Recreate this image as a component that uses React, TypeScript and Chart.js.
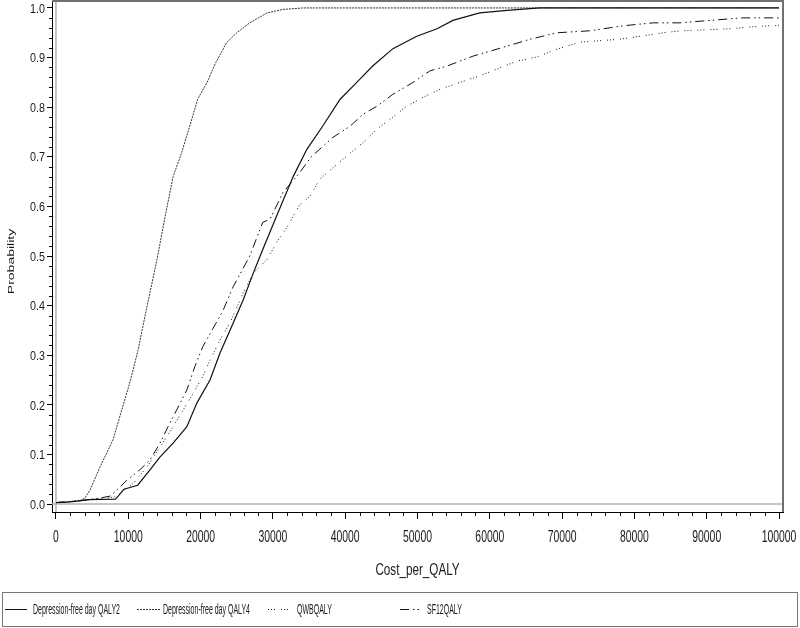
import React, { useEffect, useRef } from "react";
import { Chart, registerables } from "chart.js";

Chart.register(...registerables);

// ---------- data ----------
const seriesNames = [
  "Depression-free day QALY2",
  "Depression-free day QALY4",
  "QWBQALY",
  "SF12QALY",
];

const qaly2X = [0, 1500, 3000, 4500, 8200, 8600, 9400, 11300, 13000, 14400, 16200, 18100, 19500, 21300, 22700, 24300, 25900, 27300, 28600, 30500, 32800, 34700, 36900, 39300, 41600, 43800, 46600, 49900, 52700, 54900, 58600, 62400, 66900, 100000];
const qaly2Y = [0.003, 0.004, 0.006, 0.009, 0.01, 0.016, 0.03, 0.038, 0.069, 0.095, 0.123, 0.156, 0.204, 0.25, 0.305, 0.358, 0.412, 0.466, 0.513, 0.58, 0.66, 0.715, 0.762, 0.816, 0.85, 0.883, 0.918, 0.943, 0.958, 0.975, 0.99, 0.995, 1.0, 1.0];

const qaly4X = [0, 2000, 3500, 4000, 4700, 6100, 7900, 9100, 10200, 11350, 12300, 13000, 14000, 15100, 16200, 17400, 18500, 19600, 20900, 22000, 23600, 25000, 26800, 29200, 31400, 34200, 100000];
const qaly4Y = [0.003, 0.005, 0.008, 0.012, 0.028, 0.075, 0.13, 0.19, 0.244, 0.31, 0.378, 0.426, 0.495, 0.58, 0.66, 0.709, 0.762, 0.816, 0.85, 0.887, 0.93, 0.95, 0.97, 0.99, 0.997, 1.0, 1.0];

const qwbX = [0, 2000, 4000, 6000, 8000, 8900, 10700, 12600, 14400, 16200, 17600, 19000, 20300, 21300, 22700, 24100, 25900, 27300, 29200, 30500, 31900, 33700, 35100, 36500, 38300, 40500, 42500, 44400, 46600, 48500, 50800, 53100, 55900, 58600, 61000, 63800, 66500, 69300, 72500, 78000, 80800, 84500, 86700, 90000, 93200, 96400, 100000];
const qwbY = [0.003, 0.005, 0.008, 0.01, 0.014, 0.022, 0.042, 0.075, 0.115, 0.156, 0.19, 0.224, 0.257, 0.29, 0.331, 0.366, 0.426, 0.466, 0.493, 0.527, 0.557, 0.603, 0.62, 0.655, 0.678, 0.705, 0.729, 0.756, 0.78, 0.802, 0.82, 0.836, 0.85, 0.863, 0.877, 0.893, 0.901, 0.917, 0.931, 0.937, 0.943, 0.951, 0.954, 0.956, 0.958, 0.962, 0.965];

const sf12X = [0, 2000, 4000, 6000, 7500, 8400, 9800, 11600, 13000, 14400, 15500, 16700, 18100, 19200, 20300, 21600, 23100, 24500, 25700, 26800, 28600, 29600, 31400, 33700, 35300, 38300, 40700, 42500, 44400, 46600, 49400, 51700, 54100, 57700, 61000, 65600, 69300, 73900, 78400, 82600, 86300, 91400, 95000, 100000];
const sf12Y = [0.003, 0.005, 0.008, 0.012, 0.016, 0.028, 0.048, 0.069, 0.089, 0.123, 0.156, 0.19, 0.23, 0.277, 0.317, 0.351, 0.39, 0.438, 0.47, 0.5, 0.568, 0.574, 0.628, 0.668, 0.7, 0.739, 0.762, 0.786, 0.802, 0.826, 0.85, 0.873, 0.883, 0.903, 0.917, 0.937, 0.95, 0.954, 0.964, 0.97, 0.97, 0.976, 0.98, 0.98];

const xTickValues = [0, 10000, 20000, 30000, 40000, 50000, 60000, 70000, 80000, 90000, 100000];
const yTickValues = [0, 0.1, 0.2, 0.3, 0.4, 0.5, 0.6, 0.7, 0.8, 0.9, 1.0];
const xMinorStep = 2000;
const yMinorStep = 0.02;

const xTitle = "Cost_per_QALY";
const yTitle = "Probability";

// ---------- styles ----------
const FONT = "'Liberation Sans', Arial, Helvetica, sans-serif";
const INK = "#1a1a1a";
const dashes: number[][] = [
  [],
  [2, 1],
  [1, 2, 1, 2, 1, 6],
  [9, 4, 1.5, 3, 1.5, 4],
];

function pts(xs: number[], ys: number[]) {
  return xs.map((x, i) => ({ x, y: ys[i] }));
}

function squeezedText(
  ctx: CanvasRenderingContext2D,
  text: string,
  x: number,
  y: number,
  size: number,
  sx: number,
  align: CanvasTextAlign,
  rotate = false
) {
  ctx.save();
  ctx.font = size + "px " + FONT;
  ctx.fillStyle = INK;
  ctx.textAlign = align;
  ctx.textBaseline = "alphabetic";
  ctx.translate(x, y);
  ctx.scale(sx, 1);
  if (rotate) ctx.rotate(-Math.PI / 2);
  ctx.fillText(text, 0, 0);
  ctx.restore();
}

const decorPlugin = {
  id: "decor",
  beforeDatasetsDraw(chart: any) {
    const { ctx, chartArea, scales } = chart;
    const x0 = scales.x.getPixelForValue(0);
    const y0 = scales.y.getPixelForValue(0);
    ctx.save();
    ctx.strokeStyle = "#b4b4b4";
    ctx.lineWidth = 1.5;
    ctx.beginPath();
    ctx.moveTo(chartArea.left, y0);
    ctx.lineTo(chartArea.right, y0);
    ctx.moveTo(x0, chartArea.top);
    ctx.lineTo(x0, chartArea.bottom);
    ctx.stroke();
    ctx.restore();
  },
  afterDraw(chart: any) {
    const { ctx, chartArea, scales } = chart;
    const { left, right, top, bottom } = chartArea;
    ctx.save();
    // frame top/right
    ctx.strokeStyle = "#707070";
    ctx.lineWidth = 2;
    ctx.beginPath();
    ctx.moveTo(left, top);
    ctx.lineTo(right, top);
    ctx.lineTo(right, bottom);
    ctx.stroke();

    // minor ticks
    ctx.strokeStyle = "#000";
    ctx.lineWidth = 1;
    ctx.beginPath();
    for (let v = 0; v <= 100000; v += xMinorStep) {
      if (v % 10000 === 0) continue;
      const px = Math.round(scales.x.getPixelForValue(v)) + 0.5;
      ctx.moveTo(px, bottom);
      ctx.lineTo(px, bottom + 4);
    }
    for (let i = 0; i <= 50; i++) {
      if (i % 5 === 0) continue;
      const py = Math.round(scales.y.getPixelForValue(i * yMinorStep)) + 0.5;
      ctx.moveTo(left, py);
      ctx.lineTo(left - 3, py);
    }
    ctx.stroke();
    ctx.restore();

    // tick labels (positions from the chart's scales)
    xTickValues.forEach((v) => {
      squeezedText(ctx, String(v), scales.x.getPixelForValue(v), bottom + 29.5, 16, 0.65, "center");
    });
    yTickValues.forEach((v) => {
      squeezedText(ctx, v.toFixed(1), left - 7, scales.y.getPixelForValue(v) + 4.7, 13, 0.83, "right");
    });
    // axis titles
    squeezedText(ctx, xTitle, (left + right) / 2, bottom + 63, 16, 0.73, "center");
    squeezedText(ctx, yTitle, 13.5, (top + bottom) / 2 + 5, 14, 0.7, "center", true);

    // legend
    ctx.save();
    const boxTop = 592;
    const boxH = 34;
    ctx.strokeStyle = "#777";
    ctx.lineWidth = 1;
    ctx.strokeRect(2.5, boxTop + 0.5, 795, boxH);
    const cy = boxTop + boxH / 2;
    const sampleX = [5, 137, 268, 400];
    const sampleW = [22, 23, 22, 20];
    const textX = [33, 163, 297, 427];
    ctx.font = "14px " + FONT;
    const firstW = ctx.measureText(seriesNames[0]).width;
    const sx = Math.min(1, 87 / firstW);
    chart.data.datasets.forEach((ds: any, i: number) => {
      ctx.save();
      ctx.strokeStyle = ds.borderColor;
      ctx.lineWidth = 1;
      ctx.setLineDash(ds.borderDash || []);
      ctx.beginPath();
      ctx.moveTo(sampleX[i], cy + 0.5);
      ctx.lineTo(sampleX[i] + sampleW[i], cy + 0.5);
      ctx.stroke();
      ctx.restore();
      squeezedText(ctx, ds.label, textX[i], cy + 5, 14, sx, "left");
    });
    ctx.restore();
  },
};

export default function App() {
  const ref = useRef<HTMLCanvasElement | null>(null);

  useEffect(() => {
    document.body.style.margin = "0";
    const canvas = ref.current;
    if (!canvas) return;
    const series = [
      pts(qaly2X, qaly2Y),
      pts(qaly4X, qaly4Y),
      pts(qwbX, qwbY),
      pts(sf12X, sf12Y),
    ];
    const chart = new Chart(canvas, {
      type: "line",
      data: {
        datasets: series.map((d, i) => ({
          label: seriesNames[i],
          data: d,
          borderColor: i === 1 ? "#333" : "#111",
          borderWidth: i === 0 ? 1.2 : 1,
          borderDash: dashes[i],
          pointRadius: 0,
          tension: 0,
          fill: false,
        })),
      },
      options: {
        animation: false,
        responsive: false,
        maintainAspectRatio: false,
        parsing: false as any,
        layout: { padding: { left: 0, right: 17, top: 1, bottom: 40 } },
        plugins: {
          legend: { display: false },
          tooltip: { enabled: false },
          title: { display: false },
        },
        scales: {
          x: {
            type: "linear",
            min: -550,
            max: 100550,
            afterBuildTicks: (s: any) => {
              s.ticks = xTickValues.map((v) => ({ value: v }));
            },
            afterFit: (s: any) => {
              s.height = 76;
              s.paddingLeft = 0;
              s.paddingRight = 0;
            },
            ticks: { display: false, autoSkip: false, maxRotation: 0 },
            grid: {
              display: true,
              drawOnChartArea: false,
              drawTicks: true,
              tickLength: 7,
              tickColor: "#000",
            },
            border: { display: true, color: "#000", width: 1 },
          },
          y: {
            type: "linear",
            min: -0.016,
            max: 1.014,
            afterBuildTicks: (s: any) => {
              s.ticks = yTickValues.map((v) => ({ value: v }));
            },
            afterFit: (s: any) => {
              s.width = 52;
              s.paddingTop = 0;
              s.paddingBottom = 0;
            },
            ticks: { display: false, autoSkip: false },
            grid: {
              display: true,
              drawOnChartArea: false,
              drawTicks: true,
              tickLength: 5,
              tickColor: "#000",
            },
            border: { display: true, color: "#000", width: 1 },
          },
        },
      },
      plugins: [decorPlugin],
    });
    return () => chart.destroy();
  }, []);

  return (
    <div style={{ width: 800, height: 628, background: "#fff" }}>
      <canvas ref={ref} width={800} height={628} style={{ display: "block" }} />
    </div>
  );
}
